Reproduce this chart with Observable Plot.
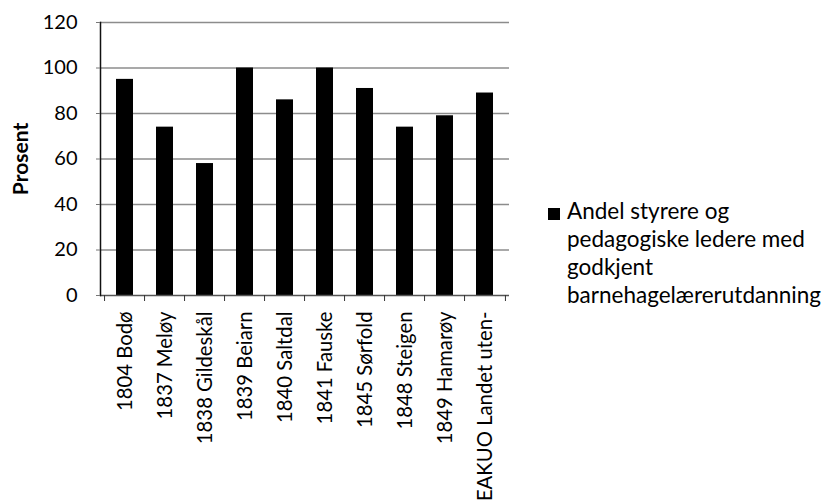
<!DOCTYPE html>
<html>
<head>
<meta charset="utf-8">
<script src="https://cdn.jsdelivr.net/npm/d3@7"></script>
<script src="https://cdn.jsdelivr.net/npm/@observablehq/plot@0.6"></script>
<style>
  html, body { margin: 0; padding: 0; background: #fff; }
  #wrap { position: relative; width: 825px; height: 502px; overflow: hidden; font-family: Lato, "Open Sans", sans-serif; color: #000; }
  #chart { position: absolute; left: 0; top: 0; }
  #legend { position: absolute; left: 548px; top: 197px; font-size: 22.5px; line-height: 28px; white-space: nowrap; }
  #legend .sw { position: absolute; left: 0; top: 11px; width: 12px; height: 12px; background: #000; }
  #legend .tx { margin-left: 19px; }
</style>
</head>
<body>
<div id="wrap">
  <div id="chart"></div>
  <div id="legend"><div class="sw"></div><div class="tx">Andel styrere og<br>pedagogiske ledere med<br>godkjent<br>barnehagelærerutdanning</div></div>
</div>
<script>
const categories = ["1804 Bodø", "1837 Meløy", "1838 Gildeskål", "1839 Beiarn", "1840 Saltdal", "1841 Fauske", "1845 Sørfold", "1848 Steigen", "1849 Hamarøy", "EAKUO Landet uten-"];
const values = [95, 74, 58, 100, 86, 100, 91, 74, 79, 89];
const yTicks = [0, 20, 40, 60, 80, 100, 120];
const seriesName = "Andel styrere og pedagogiske ledere med godkjent barnehagelærerutdanning";

const data = categories.map((c, i) => ({cat: c, value: values[i]}));

const width = 540, height = 502;
const marginLeft = 100, marginRight = 31, marginTop = 22, marginBottom = 207;
const step = (width - marginLeft - marginRight) / categories.length;

const chart = Plot.plot({
  width, height, marginLeft, marginRight, marginTop, marginBottom,
  style: {fontFamily: "Lato, 'Open Sans', sans-serif", fontSize: "20px", color: "#000", background: "transparent"},
  x: {domain: categories, paddingInner: 0.58, paddingOuter: 0.29, label: null},
  y: {domain: [0, 120], ticks: yTicks, label: null},
  marks: [
    Plot.ruleY(yTicks.filter(t => t > 0), {stroke: "#8c8c8c", strokeWidth: 1.3}),
    Plot.barY(data, {x: "cat", y: "value", fill: "#000"}),
    Plot.ruleY([0], {stroke: "#555", strokeWidth: 1.3}),
    Plot.frame({anchor: "left", stroke: "#111", strokeWidth: 1.5}),
    Plot.ruleX(categories, {x: d => d, dx: -step / 2, y1: 0, y2: 0, insetBottom: -6, stroke: "#333"}),
    Plot.ruleX(categories.slice(-1), {x: d => d, dx: step / 2, y1: 0, y2: 0, insetBottom: -6, stroke: "#333"}),
    Plot.axisY({ticks: yTicks, tickSize: 4, tickPadding: 19, stroke: "#777", fontSize: 20, label: null}),
    Plot.axisX({tickSize: 0, tickRotate: -90, tickPadding: 16, fontSize: 20.3, label: null, textAnchor: "end"}),
    Plot.text(["Prosent"], {frameAnchor: "left", textAnchor: "middle", dx: -79, rotate: -90, fontWeight: "bold", fontSize: 21, text: d => d})
  ]
});
document.getElementById("chart").appendChild(chart);
</script>
</body>
</html>
